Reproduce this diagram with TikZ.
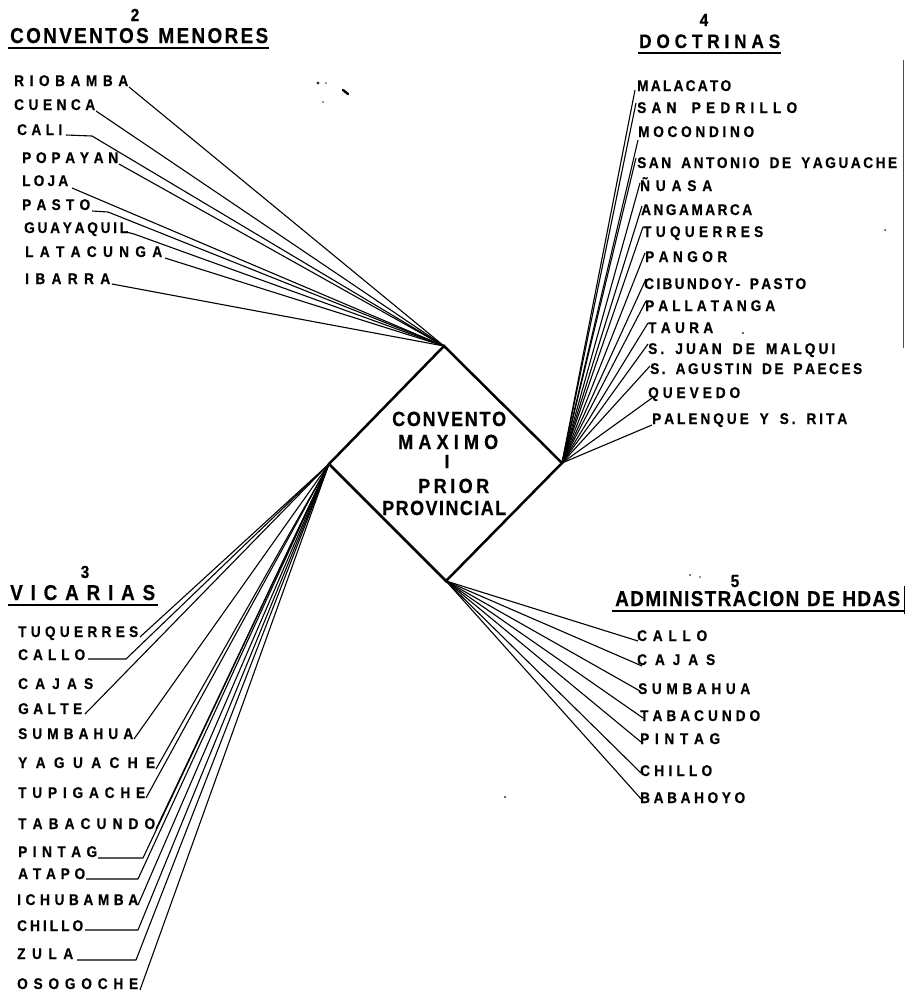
\documentclass[tikz,border=0pt]{standalone}
\usepackage{fontspec}
\setmainfont{Liberation Sans}[FakeStretch=0.88, BoldFeatures={FakeBold=0.5}]
\ExplSyntaxOn
\seq_new:N \l_rk_words_seq
\bool_new:N \l_rk_fw_bool
\bool_new:N \l_rk_fl_bool
\cs_new_protected:Npn \rk_spread:nn #1#2
 {
  \seq_set_split:Nnn \l_rk_words_seq { ~ } { #2 }
  \hbox_to_wd:nn { #1 }
   {
    \bool_set_true:N \l_rk_fw_bool
    \seq_map_inline:Nn \l_rk_words_seq
     {
      \bool_if:NF \l_rk_fw_bool { \skip_horizontal:n { 5pt plus 2fil minus 2pt } }
      \bool_set_false:N \l_rk_fw_bool
      \bool_set_true:N \l_rk_fl_bool
      \tl_map_inline:nn { ##1 }
       {
        \bool_if:NF \l_rk_fl_bool { \skip_horizontal:n { 0pt plus 1fil minus 1.5pt } }
        \bool_set_false:N \l_rk_fl_bool
        ####1
       }
     }
   }
 }
\NewDocumentCommand \spreadto { m m } { \rk_spread:nn {#1} {#2} }
\ExplSyntaxOff
\tikzset{
  item/.style={font=\bfseries\fontsize{15.5}{17}\selectfont, inner sep=0pt, anchor=base west},
  head/.style={font=\bfseries\fontsize{21.5}{24}\selectfont, inner sep=0pt, anchor=base west},
  num/.style={font=\bfseries\fontsize{17.5}{19}\selectfont, inner sep=0pt, anchor=base},
  ctr/.style={font=\bfseries\fontsize{20.5}{23}\selectfont, inner sep=0pt, anchor=base west},
  conn/.style={line width=1.1pt, line join=round},
  uline/.style={line width=1.5pt},
  speck/.style={fill=black!80, draw=none}
}
\begin{document}
\begin{tikzpicture}[x=1pt,y=-1pt]
\useasboundingbox (0,0) rectangle (910,996);
% diamond
\coordinate (T) at (444,346);
\coordinate (R) at (562,463);
\coordinate (B) at (446,581);
\coordinate (L) at (329,464);
\draw[line width=2.5pt, line join=miter] (T) -- (R) -- (B) -- (L) -- cycle;
\node[ctr] (d1) at (392,426) {\spreadto{114pt}{CONVENTO}};
\node[ctr] (d2) at (398,449) {\spreadto{100pt}{MAXIMO}};
\node[ctr, anchor=base, font=\bfseries\fontsize{19}{21}\selectfont] (d3) at (447,468) {I};
\node[ctr] (d4) at (418,493) {\spreadto{71pt}{PRIOR}};
\node[ctr] (d5) at (382,515) {\spreadto{124pt}{PROVINCIAL}};

% ---- group 2
\node[num] (n2) at (135,21) {2};
\node[head] (h2) at (10,43) {\spreadto{258pt}{CONVENTOS MENORES}};
\draw[uline] (8,48) -- (269,48);
\node[item] (r1) at (14,86) {\spreadto{114pt}{RIOBAMBA}};
\node[item] (r2) at (14,110) {\spreadto{81pt}{CUENCA}};
\node[item] (r3) at (17,135) {\spreadto{45pt}{CALI}};
\node[item] (r4) at (22,163) {\spreadto{96pt}{POPAYAN}};
\node[item] (r5) at (22,186) {\spreadto{46pt}{LOJA}};
\node[item] (r6) at (22,210) {\spreadto{68pt}{PASTO}};
\node[item] (r7) at (24,233) {\spreadto{104pt}{GUAYAQUIL}};
\node[item] (r8) at (25,257) {\spreadto{137pt}{LATACUNGA}};
\node[item] (r9) at (25,284) {\spreadto{85pt}{IBARRA}};
\coordinate (r1a) at (129,87);
\coordinate (r2a) at (96,111);
\coordinate (r3a) at (66,135); \coordinate (r3b) at (92,136);
\coordinate (r4a) at (119,164);
\coordinate (r5a) at (72,188);
\coordinate (r6a) at (92,211); \coordinate (r6b) at (108,212);
\coordinate (r7a) at (126,232); \coordinate (r7b) at (134,234);
\coordinate (r8a) at (165,258);
\coordinate (r9a) at (112,284);
\draw[conn] (r1a) -- (T);
\draw[conn] (r2a) -- (T);
\draw[conn] (r3a) -- (r3b) -- (T);
\draw[conn] (r4a) -- (T);
\draw[conn] (r5a) -- (T);
\draw[conn] (r6a) -- (r6b) -- (T);
\draw[conn] (r7a) -- (r7b) -- (T);
\draw[conn] (r8a) -- (T);
\draw[conn] (r9a) -- (T);

% ---- group 4
\node[num] (n4) at (704,26) {4};
\node[head, font=\bfseries\fontsize{19.5}{22}\selectfont] (h4) at (639,48) {\spreadto{141pt}{DOCTRINAS}};
\draw[uline] (638,53) -- (781,53);
\node[item] (m1) at (637,91) {\spreadto{94pt}{MALACATO}};
\node[item] (m2) at (637,113) {\spreadto{160pt}{SAN PEDRILLO}};
\node[item] (m3) at (638,137) {\spreadto{116pt}{MOCONDINO}};
\node[item] (m4) at (637,168) {\spreadto{260pt}{SAN ANTONIO DE YAGUACHE}};
\node[item] (m5) at (640,191) {\spreadto{72pt}{ÑUASA}};
\node[item] (m6) at (641,215) {\spreadto{111pt}{ANGAMARCA}};
\node[item] (m7) at (643,237) {\spreadto{120pt}{TUQUERRES}};
\node[item] (m8) at (645,262) {\spreadto{82pt}{PANGOR}};
\node[item] (m9) at (644,289) {\spreadto{162pt}{CIBUNDOY- PASTO}};
\node[item] (m10) at (645,311) {\spreadto{130pt}{PALLATANGA}};
\node[item] (m11) at (648,333) {\spreadto{65pt}{TAURA}};
\node[item] (m12) at (648,354) {\spreadto{187pt}{S. JUAN DE MALQUI}};
\node[item] (m13) at (650,374) {\spreadto{212pt}{S. AGUSTIN DE PAECES}};
\node[item] (m14) at (648,398) {\spreadto{92pt}{QUEVEDO}};
\node[item] (m15) at (652,424) {\spreadto{195pt}{PALENQUE Y S. RITA}};
\foreach \i/\px/\py in {1/635/90, 2/636/103, 3/638/140, 4/636/158, 5/640/183, 6/642/206, 7/643/227,
  8/645/253, 9/646/279, 10/646/301, 11/648/323, 12/648/344, 13/650/366, 14/652/398, 15/652/425}{
  \coordinate (m\i a) at (\px,\py);
  \draw[conn] (R) -- (m\i a);
}

% ---- group 3
\node[num] (n3) at (85,578) {3};
\node[head] (h3) at (10,600) {\spreadto{145pt}{VICARIAS}};
\draw[uline] (8,605) -- (158,605);
\node[item] (v1) at (18,637) {\spreadto{120pt}{TUQUERRES}};
\node[item] (v2) at (18,660) {\spreadto{67pt}{CALLO}};
\node[item] (v3) at (18,689) {\spreadto{75pt}{CAJAS}};
\node[item] (v4) at (18,714) {\spreadto{64pt}{GALTE}};
\node[item] (v5) at (18,739) {\spreadto{115pt}{SUMBAHUA}};
\node[item] (v6) at (18,768) {\spreadto{137pt}{YAGUACHE}};
\node[item] (v7) at (18,798) {\spreadto{127pt}{TUPIGACHE}};
\node[item] (v8) at (18,829) {\spreadto{137pt}{TABACUNDO}};
\node[item] (v9) at (18,857) {\spreadto{79pt}{PINTAG}};
\node[item] (v10) at (18,879) {\spreadto{67pt}{ATAPO}};
\node[item] (v11) at (17,905) {\spreadto{121pt}{ICHUBAMBA}};
\node[item] (v12) at (17,931) {\spreadto{66pt}{CHILLO}};
\node[item] (v13) at (17,959) {\spreadto{56pt}{ZULA}};
\node[item] (v14) at (17,989) {\spreadto{121pt}{OSOGOCHE}};
\coordinate (v1a) at (140,637);
\coordinate (v2a) at (88,659); \coordinate (v2b) at (126,659);
\coordinate (v4a) at (85,714);
\coordinate (v5a) at (134,739);
\coordinate (v6a) at (156,769);
\coordinate (v7a) at (146,798);
\coordinate (v8a) at (156,829);
\coordinate (v9a) at (98,858); \coordinate (v9b) at (143,858);
\coordinate (v10a) at (86,879); \coordinate (v10b) at (138,879);
\coordinate (v11a) at (138,905);
\coordinate (v12a) at (85,930); \coordinate (v12b) at (138,930);
\coordinate (v13a) at (77,960); \coordinate (v13b) at (136,960);
\coordinate (v14a) at (140,990);
\draw[conn] (v1a) -- (L);
\draw[conn] (v2a) -- (v2b) -- (L);
\draw[conn] (v4a) -- (L);
\draw[conn] (v5a) -- (L);
\draw[conn] (v6a) -- (L);
\draw[conn] (v7a) -- (L);
\draw[conn] (v8a) -- (L);
\draw[conn] (v9a) -- (v9b) -- (L);
\draw[conn] (v10a) -- (v10b) -- (L);
\draw[conn] (v11a) -- (L);
\draw[conn] (v12a) -- (v12b) -- (L);
\draw[conn] (v13a) -- (v13b) -- (L);
\draw[conn] (v14a) -- (L);

% ---- group 5
\node[num] (n5) at (735,587) {5};
\node[head] (h5) at (615,606) {\spreadto{285pt}{ADMINISTRACION DE HDAS}};
\draw[uline] (612,611) -- (905,611);
\draw[line width=1pt] (904,586) -- (904,614);
\node[item] (a1) at (637,641) {\spreadto{70pt}{CALLO}};
\node[item] (a2) at (637,665) {\spreadto{78pt}{CAJAS}};
\node[item] (a3) at (638,694) {\spreadto{112pt}{SUMBAHUA}};
\node[item] (a4) at (640,721) {\spreadto{120pt}{TABACUNDO}};
\node[item] (a5) at (640,744) {\spreadto{80pt}{PINTAG}};
\node[item] (a6) at (640,776) {\spreadto{72pt}{CHILLO}};
\node[item] (a7) at (640,803) {\spreadto{105pt}{BABAHOYO}};
\foreach \i/\px/\py in {1/638/641, 2/642/666, 3/640/691, 4/643/718, 5/641/742, 6/641/773, 7/642/800}{
  \coordinate (a\i a) at (\px,\py);
  \draw[conn] (B) -- (a\i a);
}

% scan edge and specks
\draw[black!70, line width=0.8pt] (903,60) -- (903,348);
\fill[speck] (318,83) circle (1.6);
\fill[speck] (326,83) circle (0.8);
\fill[speck] (323,102) circle (0.8);
\draw[line width=2.4pt, line cap=round] (343,90) -- (348,94);
\fill[speck] (743,333) circle (1.2);
\fill[speck] (885,230) circle (1);
\fill[speck] (690,575) circle (1);
\fill[speck] (700,577) circle (0.8);
\fill[speck] (505,797) circle (1.2);
\end{tikzpicture}
\end{document}
